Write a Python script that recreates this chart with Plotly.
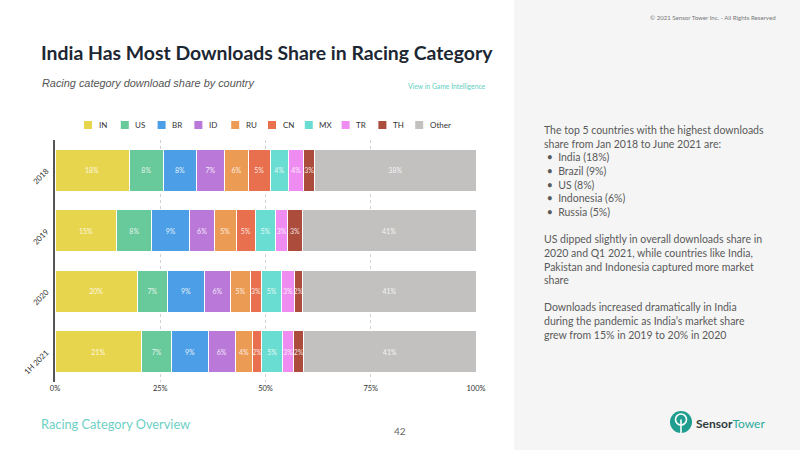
import plotly.graph_objects as go

W, H = 800, 450

periods = ["2018", "2019", "2020", "1H 2021"]
countries = ["IN", "US", "BR", "ID", "RU", "CN", "MX", "TR", "TH", "Other"]
IN = [17.6, 14.7, 19.6, 20.6]
US = [8.2, 8.3, 7.1, 7.1]
BR = [7.8, 9.0, 8.8, 8.7]
ID = [6.7, 5.9, 6.2, 6.4]
RU = [5.6, 5.1, 4.7, 4.2]
CN = [5.2, 4.6, 2.7, 2.1]
MX = [4.4, 4.8, 4.8, 5.0]
TR = [3.6, 2.9, 2.9, 2.6]
TH = [2.6, 3.4, 2.1, 2.4]
Other = [38.3, 41.3, 41.1, 40.9]
series = [IN, US, BR, ID, RU, CN, MX, TR, TH, Other]
colors = ["#E8D54E", "#68C99A", "#4C9FE6", "#BA79D9", "#EC9B55",
          "#E8704F", "#69DDD2", "#EE8CF1", "#AB4C3C", "#C2C1BF"]
x_ticks = [0, 25, 50, 75, 100]
x_tick_labels = ["0%", "25%", "50%", "75%", "100%"]

FONT = "Lato"


def px(x):
    return x / W


def py(y):
    return 1 - y / H


fig = go.Figure()
for name, vals, col in zip(countries, series, colors):
    fig.add_trace(go.Bar(
        y=periods, x=vals, orientation="h", name=name,
        marker=dict(color=col, line=dict(color="white", width=1)),
        text=vals, texttemplate="%{x:.0f}%", textposition="inside",
        insidetextanchor="middle", textangle=0, constraintext="none",
        textfont=dict(size=7, color="rgba(255,255,255,0.85)", family=FONT),
        showlegend=False, hoverinfo="skip",
    ))

fig.update_layout(
    width=W, height=H,
    margin=dict(l=0, r=0, t=0, b=0, autoexpand=False),
    paper_bgcolor="white", plot_bgcolor="white",
    barmode="stack", bargap=0.3,
    font=dict(family=FONT, color="#333"),
    uniformtext=dict(minsize=7, mode="show"),
    xaxis=dict(domain=[px(55), px(476)], range=[0, 100], tickmode="array",
               tickvals=x_ticks, ticktext=x_tick_labels,
               showgrid=True, gridcolor="#d2d2d2",
               griddash="dot", gridwidth=1, zeroline=False,
               tickfont=dict(size=7.5, color="#333"), automargin=False,
               fixedrange=True),
    yaxis=dict(domain=[py(382), py(140)], autorange="reversed",
               categoryorder="array", categoryarray=periods,
               tickangle=-45, tickfont=dict(size=7.8, color="#333"),
               ticklabelstandoff=5,
               showline=True, linecolor="#555", linewidth=2,
               showgrid=False, zeroline=False, automargin=False,
               ticks="", ticklen=0, fixedrange=True),
    showlegend=False,
)

shapes = [
    dict(type="rect", xref="paper", yref="paper", x0=px(514), x1=1,
         y0=0, y1=1, fillcolor="#f5f5f5", line=dict(width=0), layer="below"),
    # logo icon
    dict(type="circle", xref="paper", yref="paper",
         x0=px(670), x1=px(692), y0=py(433), y1=py(411),
         fillcolor="#1f9e8f", line=dict(width=0)),
    dict(type="circle", xref="paper", yref="paper",
         x0=px(675.5), x1=px(686.5), y0=py(425), y1=py(414),
         fillcolor="rgba(0,0,0,0)", line=dict(color="white", width=1.6)),
    dict(type="line", xref="paper", yref="paper",
         x0=px(681), x1=px(681), y0=py(419.5), y1=py(433),
         line=dict(color="white", width=1.6)),
]

right_text = (
    "The top 5 countries with the highest downloads<br>"
    "share from Jan 2018 to June 2021 are:<br>"
    " •  India (18%)<br>"
    " •  Brazil (9%)<br>"
    " •  US (8%)<br>"
    " •  Indonesia (6%)<br>"
    " •  Russia (5%)<br>"
    "<br>"
    "US dipped slightly in overall downloads share in<br>"
    "2020 and Q1 2021, while countries like India,<br>"
    "Pakistan and Indonesia captured more market<br>"
    "share<br>"
    "<br>"
    "Downloads increased dramatically in India<br>"
    "during the pandemic as India’s market share<br>"
    "grew from 15% in 2019 to 20% in 2020"
)

annotations = [
    dict(text="<b>India Has Most Downloads Share in Racing Category</b>",
         x=px(39), y=py(53), xanchor="left", yanchor="middle",
         font=dict(size=19.4, color="#1c2733", family=FONT)),
    dict(text="<i>Racing category download share by country</i>",
         x=px(40), y=py(83), xanchor="left", yanchor="middle",
         font=dict(size=10.9, color="#555", family="Liberation Sans")),
    dict(text="View in Game Intelligence",
         x=px(488), y=py(86), xanchor="right", yanchor="middle",
         font=dict(size=6.8, color="#5fcfc0", family=FONT)),
    dict(text="Racing Category Overview",
         x=px(39), y=py(424), xanchor="left", yanchor="middle",
         font=dict(size=12.8, color="#6dd0c4", family=FONT)),
    dict(text="42", x=px(400), y=py(431), xanchor="center", yanchor="middle",
         font=dict(size=10, color="#666", family=FONT)),
    dict(text="© 2021 Sensor Tower Inc. - All Rights Reserved",
         x=px(778), y=py(17), xanchor="right", yanchor="middle",
         font=dict(size=6.1, color="#777", family=FONT)),
    dict(text=right_text, x=px(542), y=py(122), xanchor="left", yanchor="top",
         align="left", font=dict(size=10.5, color="#5a5a5a", family=FONT)),
    dict(text="<b>Sensor</b><span style='color:#2aa99a'>Tower</span>",
         x=px(694), y=py(423), xanchor="left", yanchor="middle",
         font=dict(size=12, color="#2f3b3b", family=FONT)),
]

# custom legend (fixed spacing as in the original)
for i, (name, col) in enumerate(zip(countries, colors)):
    lx = 84 + 36.8 * i
    shapes.append(dict(type="rect", xref="paper", yref="paper",
                       x0=px(lx), x1=px(lx + 8), y0=py(129), y1=py(121),
                       fillcolor=col, line=dict(width=0)))
    annotations.append(dict(text=name, x=px(lx + 12.5), y=py(125),
                            xanchor="left", yanchor="middle",
                            font=dict(size=8, color="#333", family=FONT)))

for a in annotations:
    a.update(xref="paper", yref="paper", showarrow=False)

fig.update_layout(shapes=shapes, annotations=annotations)
fig.write_html("out.html")
